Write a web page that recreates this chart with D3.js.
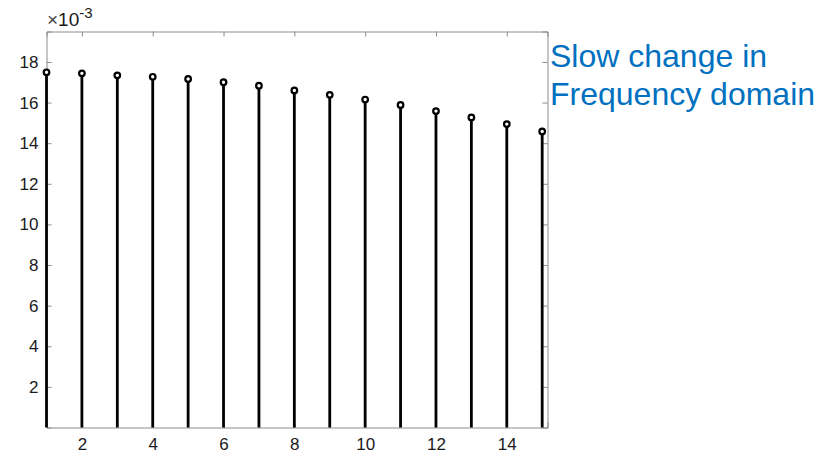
<!DOCTYPE html>
<html>
<head>
<meta charset="utf-8">
<script src="https://cdn.jsdelivr.net/npm/d3@7"></script>
<style>
  html, body { margin: 0; padding: 0; background: #fff; }
  svg { display: block; font-family: "Liberation Sans", Arial, sans-serif; }
</style>
</head>
<body>
<svg id="chart" width="829" height="453"></svg>
<script>
// Sample index and magnitude (x 10^-3)
const indices = [1, 2, 3, 4, 5, 6, 7, 8, 9, 10, 11, 12, 13, 14, 15];
const magnitudes = [17.49, 17.44, 17.34, 17.27, 17.16, 17.0, 16.83, 16.6, 16.38, 16.15, 15.88, 15.58, 15.27, 14.94, 14.58];
const xTicks = [2, 4, 6, 8, 10, 12, 14];
const yTicks = [2, 4, 6, 8, 10, 12, 14, 16, 18];
const noteLines = ["Slow change in", "Frequency domain"];

const svg = d3.select("#chart");
const plotLeft = 46.5, plotRight = 547.5, plotTop = 31.5, plotBottom = 427.5;

const x = d3.scaleLinear().domain([1, 15.15]).range([plotLeft, plotRight]);
const y = d3.scaleLinear().domain([0, 19.5]).range([plotBottom, plotTop]);

const axisColor = "#8c8c8c";
const tickLen = 5;

// Axes box with inward ticks on all four sides
const g = svg.append("g");

const axB = d3.axisBottom(x).tickValues(xTicks).tickSize(-tickLen).tickPadding(10.5).tickFormat(d3.format("d"));
const axT = d3.axisTop(x).tickValues(xTicks).tickSize(-tickLen).tickFormat("");
const axL = d3.axisLeft(y).tickValues(yTicks).tickSize(-tickLen).tickPadding(8).tickFormat(d3.format("d"));
const axR = d3.axisRight(y).tickValues(yTicks).tickSize(-tickLen).tickFormat("");

function style(sel) {
  sel.attr("font-size", 17).attr("font-family", "'Liberation Sans', Arial, sans-serif");
  sel.select(".domain").attr("stroke", axisColor).attr("stroke-width", 1);
  sel.selectAll(".tick line").attr("stroke", axisColor).attr("stroke-width", 1);
  sel.selectAll(".tick text").attr("fill", "#1a1a1a");
}

g.append("g").attr("transform", `translate(0,${plotBottom})`).call(axB).call(style);
g.append("g").attr("transform", `translate(0,${plotTop})`).call(axT).call(style);
g.append("g").attr("transform", `translate(${plotLeft},0)`).call(axL).call(style);
g.append("g").attr("transform", `translate(${plotRight},0)`).call(axR).call(style);

// Exponent label
const expo = svg.append("text")
  .attr("x", 47).attr("y", 26)
  .attr("fill", "#1a1a1a")
  .attr("font-size", 19);
expo.append("tspan").attr("fill", "#444").text("\u00d7");
expo.append("tspan").text("10");
expo.append("tspan").attr("dy", -8).attr("font-size", 15).text("-3");

// Stems
const stems = svg.append("g");
stems.selectAll("line")
  .data(indices)
  .join("line")
  .attr("x1", d => x(d)).attr("x2", d => x(d))
  .attr("y1", y(0))
  .attr("y2", (d, i) => y(magnitudes[i]))
  .attr("stroke", "#000")
  .attr("stroke-width", 2.8);

stems.selectAll("circle")
  .data(indices)
  .join("circle")
  .attr("cx", d => x(d))
  .attr("cy", (d, i) => y(magnitudes[i]))
  .attr("r", 2.8)
  .attr("fill", "#fff")
  .attr("stroke", "#000")
  .attr("stroke-width", 2.2);

// Annotation
svg.append("g").selectAll("text")
  .data(noteLines)
  .join("text")
  .attr("x", 550)
  .attr("y", (d, i) => 67 + i * 37.5)
  .attr("fill", "#0070c0")
  .attr("font-size", 32)
  .text(d => d);
</script>
</body>
</html>
